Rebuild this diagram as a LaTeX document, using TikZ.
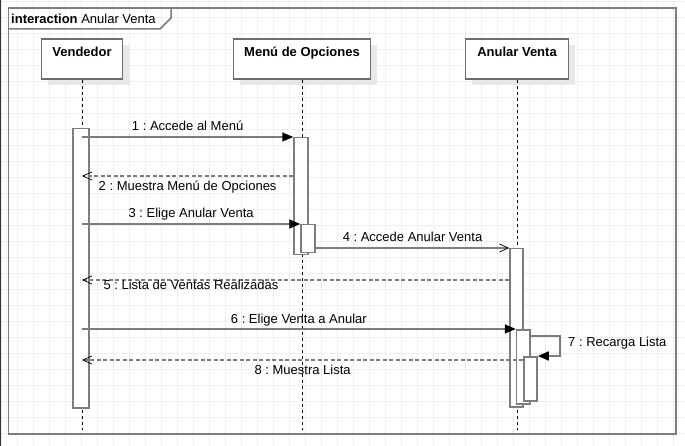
\documentclass[tikz,border=0pt]{standalone}
\usepackage{fontspec}
\setmainfont{Liberation Sans}
\usetikzlibrary{arrows.meta,shadows}
\frenchspacing

\definecolor{umlgray}{RGB}{125,125,125}
\definecolor{headgray}{RGB}{110,110,110}
\definecolor{gridgray}{RGB}{238,238,238}
\definecolor{shadowgray}{RGB}{232,232,232}

\tikzset{
  gridline/.style={draw=gridgray, line width=0.8pt},
  frame/.style={draw=umlgray, line width=1.5pt},
  head/.style={draw=headgray, line width=1.5pt, fill=white, minimum height=40pt, inner sep=0pt,
    drop shadow={shadow xshift=6pt, shadow yshift=-6pt, fill=shadowgray, opacity=1}},
  headtext/.style={anchor=base, yshift=-18pt, inner sep=0pt, font=\fontsize{13}{15}\selectfont\bfseries},
  lifeline/.style={draw=black, line width=0.8pt, dash pattern=on 3.5pt off 2.5pt},
  act/.style={draw=umlgray, line width=1.5pt, fill=white, minimum width=14pt, inner sep=0pt, anchor=north},
  call/.style={draw=umlgray, line width=1.5pt, -{Triangle[length=11pt,width=9pt,color=black]}},
  async/.style={draw=umlgray, line width=1.5pt, -{Straight Barb[length=9pt,width=8pt,color=black,line width=0.7pt]}},
  reply/.style={async, dash pattern=on 4pt off 2.5pt},
  lbla/.style={anchor=base, yshift=6pt, inner sep=0pt},
  lblb/.style={anchor=base, yshift=-14.5pt, inner sep=0pt}
}

\begin{document}
\begin{tikzpicture}[x=1pt,y=-1pt,font=\fontsize{13}{15}\selectfont]
    \useasboundingbox[fill=white] (0,0) rectangle (685,446);
    \foreach \gx in {1,17,...,673} \draw[gridline] (\gx,0) -- (\gx,446);
    \foreach \gy in {1,17,...,433} \draw[gridline] (0,\gy) -- (685,\gy);
    \draw[black!80, line width=1.4pt] (0.7,0) -- (0.7,446);

    \draw[frame] (8.7,8) rectangle (676,434);
    \draw[frame] (8.7,29) -- (160,29) -- (171,18) -- (171,8);
    \node[anchor=base west, inner sep=0pt] (title) at (11,23.3) {\textbf{interaction} Anular Venta};

    \node[head, minimum width=81pt, label={[headtext]north:Vendedor}] (vendedor) at (82,59) {};
    \node[head, minimum width=137pt, label={[headtext]north:Menú de Opciones}] (menu) at (302,59) {};
    \node[head, minimum width=103pt, label={[headtext]north:Anular Venta}] (anular) at (517,59) {};

    \coordinate (low) at (0,430);
    \draw[lifeline] (vendedor.south) -- (vendedor.south |- low);
    \draw[lifeline] (menu.south) -- (menu.south |- low);
    \draw[lifeline] (anular.south) -- (anular.south |- low);

    \node[act, minimum width=16pt, minimum height=279pt] (act0) at (81,128) {};
    \node[act, minimum height=117pt] (act1) at (301,137) {};
    \node[act, minimum height=28pt] (act2) at (308,224) {};
    \node[act, minimum width=13pt, minimum height=158pt] (act3) at (516.5,248) {};
    \node[act, minimum width=13.5pt, minimum height=74pt] (act4) at (523.25,329) {};
    \node[act, minimum width=13pt, minimum height=44pt] (act5) at (530.5,356) {};

    \coordinate (v1) at (82,137);
    \coordinate (v2) at (82,176);
    \coordinate (v3) at (82,224);
    \coordinate (v5) at (82,280);
    \coordinate (v6) at (82,329);
    \coordinate (v8) at (82,360);
    \coordinate (self) at (560,336);

    \draw[call] (v1) -- node[lbla] (l1) {1 : Accede al Menú} (act1.north west);
    \draw[reply] (act1.west |- v2) -- node[lblb] (l2) {2 : Muestra Menú de Opciones} (v2);
    \draw[call] (v3) -- node[lbla] (l3) {3 : Elige Anular Venta} (act2.north west);
    \draw[async] (act2.east |- act3.north) -- node[lbla] (l4) {4 : Accede Anular Venta} (act3.north west);
    \draw[reply] (act3.west |- v5) -- node[lblb, yshift=4.5pt, pos=0.745] (l5) {5 : Lista de Ventas Realizadas} (v5);
    \draw[call] (v6) -- node[lbla] (l6) {6 : Elige Venta a Anular} (act4.north west);
    \draw[call] (act4.east |- self) -- (self) |- (act5.north east);
    \node[anchor=base west, inner sep=0pt] (l7) at (568,346) {7 : Recarga Lista};
    \draw[reply] (act5.west |- v8) -- node[lblb] (l8) {8 : Muestra Lista} (v8);
\end{tikzpicture}
\end{document}
